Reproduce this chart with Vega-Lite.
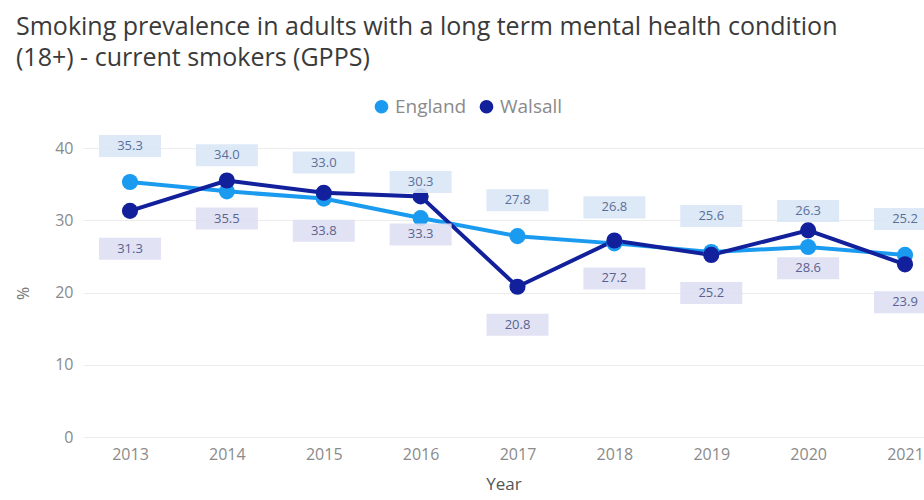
{
  "$schema": "https://vega.github.io/schema/vega-lite/v6.json",
  "autosize": "none",
  "width": 841,
  "height": 289,
  "padding": {"left": 83, "top": 148, "right": 0, "bottom": 63},
  "background": "white",
  "config": {
    "font": "Open Sans",
    "view": {"stroke": null}
  },
  "title": {
    "text": ["Smoking prevalence in adults with a long term mental health condition", "(18+) - current smokers (GPPS)"],
    "anchor": "start",
    "frame": "group",
    "dx": -67,
    "fontSize": 25,
    "fontWeight": "normal",
    "lineHeight": 31,
    "color": "#3a3a3a",
    "offset": 26
  },
  "data": {
    "values": [
      {"Year": 2013, "Area": "England", "Value": 35.3},
      {"Year": 2014, "Area": "England", "Value": 34.0},
      {"Year": 2015, "Area": "England", "Value": 33.0},
      {"Year": 2016, "Area": "England", "Value": 30.3},
      {"Year": 2017, "Area": "England", "Value": 27.8},
      {"Year": 2018, "Area": "England", "Value": 26.8},
      {"Year": 2019, "Area": "England", "Value": 25.6},
      {"Year": 2020, "Area": "England", "Value": 26.3},
      {"Year": 2021, "Area": "England", "Value": 25.2},
      {"Year": 2013, "Area": "Walsall", "Value": 31.3},
      {"Year": 2014, "Area": "Walsall", "Value": 35.5},
      {"Year": 2015, "Area": "Walsall", "Value": 33.8},
      {"Year": 2016, "Area": "Walsall", "Value": 33.3},
      {"Year": 2017, "Area": "Walsall", "Value": 20.8},
      {"Year": 2018, "Area": "Walsall", "Value": 27.2},
      {"Year": 2019, "Area": "Walsall", "Value": 25.2},
      {"Year": 2020, "Area": "Walsall", "Value": 28.6},
      {"Year": 2021, "Area": "Walsall", "Value": 23.9}
    ]
  },
  "encoding": {
    "x": {
      "field": "Year",
      "type": "quantitative",
      "scale": {"domain": [2012.515, 2021.196], "nice": false, "zero": false},
      "axis": {
        "values": [2013, 2014, 2015, 2016, 2017, 2018, 2019, 2020, 2021],
        "format": "d",
        "grid": false,
        "domain": false,
        "ticks": false,
        "labelFontSize": 16,
        "labelColor": "#8a8a8a",
        "labelPadding": 9,
        "title": "Year",
        "titleFontSize": 17,
        "titleFontWeight": "normal",
        "titleColor": "#555555",
        "titlePadding": 14
      }
    },
    "y": {
      "field": "Value",
      "type": "quantitative",
      "scale": {"domain": [0, 40], "nice": false},
      "axis": {
        "values": [0, 10, 20, 30, 40],
        "domain": false,
        "ticks": false,
        "gridColor": "#ececec",
        "labelFontSize": 16,
        "labelColor": "#8a8a8a",
        "labelPadding": 10,
        "title": "%",
        "titleFontSize": 16,
        "titleFontWeight": "normal",
        "titleColor": "#777777",
        "titleX": -52,
        "titleY": 145
      }
    },
    "color": {
      "field": "Area",
      "type": "nominal",
      "scale": {"domain": ["England", "Walsall"], "range": ["#1A9BF0", "#12209C"]},
      "legend": {
        "orient": "none",
        "legendX": 289,
        "legendY": -51,
        "direction": "horizontal",
        "title": null,
        "symbolType": "circle",
        "symbolSize": 150,
        "labelFontSize": 19,
        "labelColor": "#8a8a8a",
        "columnPadding": 10,
        "labelOffset": 4
      }
    }
  },
  "layer": [
    {
      "mark": {"type": "line", "strokeWidth": 4}
    },
    {
      "mark": {"type": "point", "filled": true, "size": 260, "opacity": 1}
    },
    {
      "transform": [{"filter": "datum.Area === 'England'"}],
      "mark": {"type": "point", "filled": true, "shape": "M-1,-0.355H1V0.355H-1Z", "size": 3844, "yOffset": -36, "opacity": 0.9},
      "encoding": {"color": {"value": "#d9e7f6"}}
    },
    {
      "transform": [{"filter": "datum.Area === 'Walsall'"}],
      "mark": {"type": "point", "filled": true, "shape": "M-1,-0.355H1V0.355H-1Z", "size": 3844, "yOffset": 38, "opacity": 0.9},
      "encoding": {"color": {"value": "#dedff2"}}
    },
    {
      "transform": [{"filter": "datum.Area === 'England'"}],
      "mark": {"type": "text", "fontSize": 13, "dy": -36, "baseline": "middle"},
      "encoding": {"text": {"field": "Value", "format": ".1f"}, "color": {"value": "#5a7099"}}
    },
    {
      "transform": [{"filter": "datum.Area === 'Walsall'"}],
      "mark": {"type": "text", "fontSize": 13, "dy": 38, "baseline": "middle"},
      "encoding": {"text": {"field": "Value", "format": ".1f"}, "color": {"value": "#5a6390"}}
    }
  ]
}
